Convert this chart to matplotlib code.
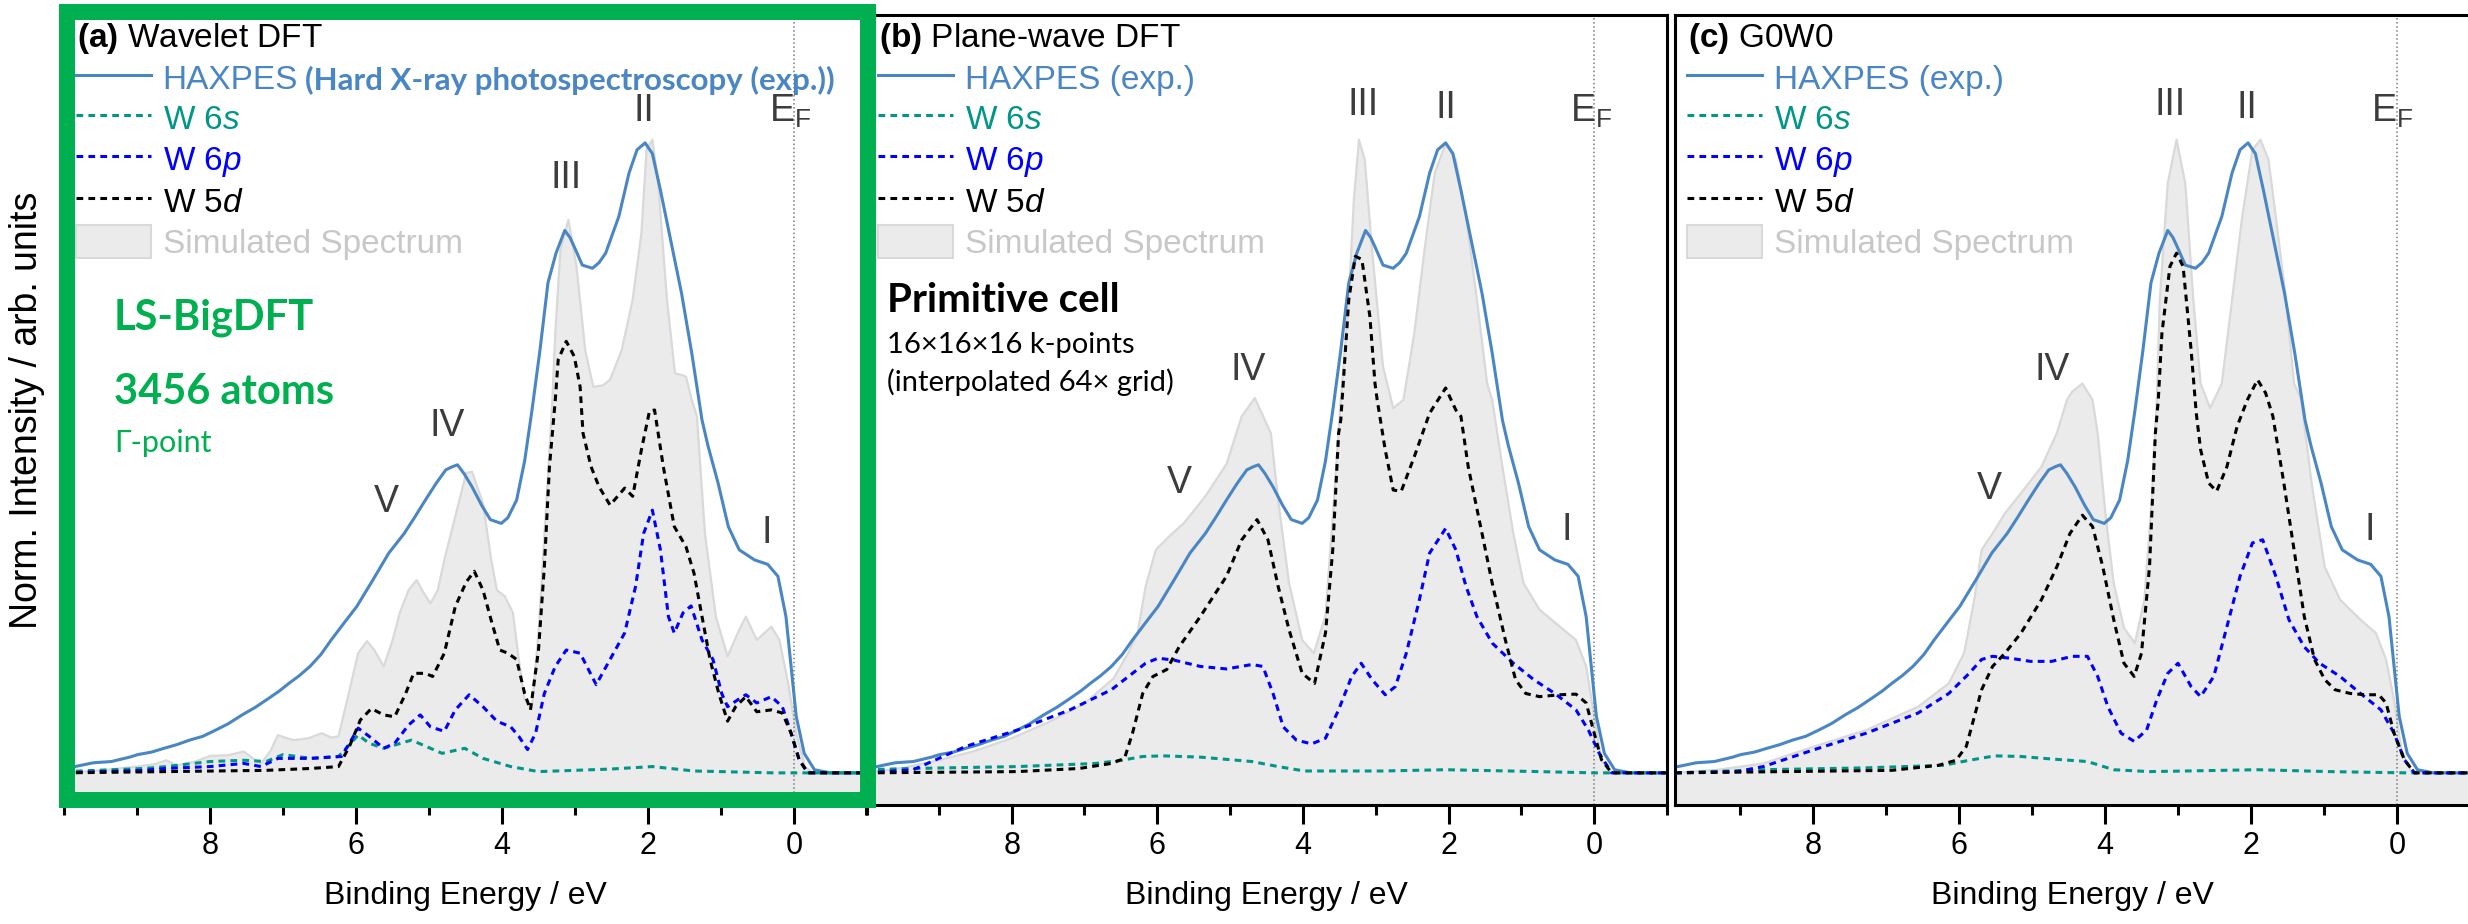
#!/usr/bin/env python3

import matplotlib
matplotlib.use("Agg")
import matplotlib.pyplot as plt
from matplotlib.lines import Line2D
from matplotlib.patches import Patch, Rectangle
from matplotlib.ticker import MultipleLocator

plt.rcParams["font.family"] = ["Liberation Sans", "DejaVu Sans"]
plt.rcParams["mathtext.fontset"] = "custom"
plt.rcParams["mathtext.rm"] = "Liberation Sans"
plt.rcParams["mathtext.it"] = "Liberation Sans:italic"
plt.rcParams["mathtext.bf"] = "Liberation Sans:bold"

W, H = 2468, 924

# HAXPES experiment, the same curve in all three panels
haxpes_ev = [10.0, 9.85, 9.6, 9.35, 9.1, 8.99, 8.8, 8.63, 8.45, 8.28, 8.1, 7.92,
             7.75, 7.56, 7.38, 7.2, 7.05, 6.92, 6.78, 6.63, 6.48, 6.34, 6.15,
             5.99, 5.77, 5.55, 5.34, 5.2, 5.05, 4.9, 4.77, 4.68, 4.61, 4.52,
             4.41, 4.28, 4.16, 4.01, 3.92, 3.8, 3.69, 3.59, 3.48, 3.37, 3.26,
             3.14, 3.07, 3.01, 2.9, 2.76, 2.67, 2.58, 2.4, 2.26, 2.15, 2.04,
             1.94, 1.83, 1.69, 1.54, 1.4, 1.26, 1.18, 1.04, 0.9, 0.75, 0.54,
             0.36, 0.22, 0.11, 0.04, -0.03, -0.14, -0.28, -0.5, -1.0]
haxpes_int = [0.012, 0.010, 0.016, 0.018, 0.025, 0.029, 0.033, 0.039, 0.045,
              0.052, 0.058, 0.068, 0.078, 0.092, 0.104, 0.118, 0.130, 0.142,
              0.154, 0.169, 0.188, 0.211, 0.240, 0.264, 0.306, 0.349, 0.380,
              0.405, 0.433, 0.460, 0.481, 0.486, 0.489, 0.475, 0.454, 0.425,
              0.402, 0.396, 0.405, 0.433, 0.495, 0.575, 0.671, 0.778, 0.825,
              0.861, 0.850, 0.835, 0.806, 0.801, 0.810, 0.825, 0.883, 0.952,
              0.989, 1.0, 0.983, 0.925, 0.846, 0.761, 0.666, 0.56, 0.52, 0.46,
              0.391, 0.354, 0.338, 0.331, 0.312, 0.248, 0.169, 0.09, 0.031,
              0.005, 0.0, 0.0]

# (a) wavelet DFT
a_sim_ev = [10.0, 9.5, 9.0, 8.75, 8.6, 8.45, 8.2, 8.0, 7.75, 7.54, 7.4, 7.3,
            7.17, 7.07, 6.95, 6.85, 6.65, 6.47, 6.34, 6.24, 6.12, 5.97, 5.85,
            5.75, 5.62, 5.5, 5.4, 5.28, 5.17, 5.07, 4.98, 4.88, 4.79, 4.64,
            4.49, 4.41, 4.26, 4.15, 4.07, 3.96, 3.85, 3.77, 3.69, 3.59, 3.5,
            3.39, 3.31, 3.27, 3.2, 3.09, 2.98, 2.86, 2.75, 2.62, 2.52, 2.36,
            2.21, 2.09, 2.02, 1.94, 1.86, 1.74, 1.63, 1.55, 1.48, 1.4, 1.33,
            1.22, 1.07, 0.91, 0.77, 0.66, 0.51, 0.31, 0.2, 0.08, -0.03, -0.15,
            -0.26, -1.0]
a_sim_int = [0.0, 0.004, 0.01, 0.014, 0.02, 0.012, 0.018, 0.027, 0.028, 0.034,
             0.022, 0.015, 0.035, 0.06, 0.055, 0.052, 0.055, 0.063, 0.056,
             0.058, 0.116, 0.19, 0.209, 0.195, 0.169, 0.21, 0.254, 0.29, 0.306,
             0.285, 0.269, 0.29, 0.338, 0.407, 0.476, 0.478, 0.428, 0.34, 0.29,
             0.28, 0.254, 0.18, 0.116, 0.105, 0.222, 0.433, 0.592, 0.698, 0.83,
             0.878, 0.804, 0.671, 0.613, 0.615, 0.624, 0.671, 0.751, 0.857,
             0.989, 1.005, 0.935, 0.751, 0.634, 0.632, 0.629, 0.592, 0.566,
             0.38, 0.248, 0.185, 0.222, 0.248, 0.211, 0.232, 0.211, 0.142,
             0.063, 0.01, 0.0, 0.0]
a_6s_ev = [10.0, 8.9, 8.6, 8.0, 7.54, 7.23, 7.0, 6.62, 6.24, 5.97, 5.82, 5.62,
           5.24, 4.82, 4.51, 4.26, 3.88, 3.5, 2.52, 1.94, 1.37, 0.27, -1.0]
a_6s_int = [0.002, 0.007, 0.01, 0.018, 0.02, 0.018, 0.029, 0.023, 0.026, 0.06,
            0.047, 0.039, 0.052, 0.031, 0.039, 0.023, 0.01, 0.002, 0.006, 0.01,
            0.003, 0.0, 0.0]
a_6p_ev = [10.0, 8.9, 8.6, 8.0, 7.54, 7.3, 7.07, 6.62, 6.2, 6.09, 5.97, 5.82,
           5.62, 5.47, 5.28, 5.12, 4.98, 4.79, 4.64, 4.45, 4.26, 4.07, 3.88,
           3.77, 3.65, 3.54, 3.42, 3.27, 3.12, 2.93, 2.71, 2.52, 2.32, 2.17,
           2.06, 1.94, 1.83, 1.72, 1.64, 1.52, 1.41, 1.26, 1.11, 0.99, 0.91,
           0.77, 0.66, 0.51, 0.31, 0.16, 0.04, -0.07, -0.19, -1.0]
a_6p_int = [0.0, 0.004, 0.007, 0.01, 0.015, 0.01, 0.023, 0.023, 0.026, 0.047,
            0.071, 0.058, 0.039, 0.047, 0.076, 0.092, 0.073, 0.066, 0.1, 0.124,
            0.105, 0.082, 0.073, 0.058, 0.037, 0.063, 0.126, 0.169, 0.195,
            0.19, 0.14, 0.18, 0.222, 0.296, 0.38, 0.417, 0.354, 0.248, 0.222,
            0.254, 0.265, 0.211, 0.18, 0.126, 0.105, 0.116, 0.124, 0.111,
            0.121, 0.105, 0.063, 0.021, 0.0, 0.0]
a_5d_ev = [10.0, 7.23, 6.62, 6.24, 6.09, 5.94, 5.79, 5.62, 5.47, 5.32, 5.21,
           5.05, 4.95, 4.79, 4.64, 4.49, 4.38, 4.26, 4.15, 4.03, 3.92, 3.8,
           3.69, 3.61, 3.5, 3.42, 3.35, 3.27, 3.23, 3.12, 3.01, 2.93, 2.89,
           2.78, 2.67, 2.52, 2.32, 2.21, 2.09, 1.98, 1.91, 1.79, 1.64, 1.48,
           1.37, 1.26, 1.15, 1.03, 0.91, 0.8, 0.66, 0.51, 0.31, 0.16, 0.04,
           -0.07, -0.19, -1.0]
a_5d_int = [0.0, 0.004, 0.007, 0.01, 0.042, 0.084, 0.102, 0.092, 0.089, 0.126,
            0.158, 0.158, 0.153, 0.19, 0.264, 0.303, 0.32, 0.29, 0.243, 0.195,
            0.19, 0.18, 0.126, 0.1, 0.195, 0.327, 0.486, 0.592, 0.656, 0.685,
            0.661, 0.613, 0.539, 0.486, 0.454, 0.425, 0.452, 0.439, 0.513,
            0.574, 0.576, 0.486, 0.391, 0.359, 0.317, 0.248, 0.18, 0.126,
            0.082, 0.105, 0.121, 0.097, 0.1, 0.095, 0.063, 0.021, 0.0, 0.0]

# (b) plane-wave DFT
b_sim_ev = [10.0, 9.5, 9.0, 8.5, 8.0, 7.5, 7.0, 6.6, 6.4, 6.27, 6.16, 6.02,
            5.84, 5.63, 5.34, 5.05, 4.84, 4.66, 4.44, 4.34, 4.19, 4.01, 3.85,
            3.69, 3.59, 3.48, 3.37, 3.3, 3.23, 3.15, 3.05, 2.9, 2.76, 2.62,
            2.47, 2.33, 2.19, 2.04, 1.9, 1.76, 1.61, 1.47, 1.4, 1.26, 1.11,
            0.97, 0.75, 0.47, 0.25, 0.11, 0.0, -0.1, -0.24, -1.0]
b_sim_int = [0.0, 0.008, 0.02, 0.035, 0.055, 0.08, 0.11, 0.15, 0.19, 0.222,
             0.296, 0.354, 0.375, 0.397, 0.439, 0.49, 0.566, 0.595, 0.539,
             0.433, 0.301, 0.211, 0.19, 0.25, 0.407, 0.592, 0.751, 0.91, 1.005,
             0.973, 0.83, 0.645, 0.579, 0.592, 0.698, 0.83, 0.952, 0.999,
             0.973, 0.883, 0.751, 0.618, 0.592, 0.486, 0.38, 0.301, 0.259,
             0.232, 0.211, 0.169, 0.09, 0.021, 0.0, 0.0]
b_6s_ev = [10.0, 9.35, 7.92, 6.84, 6.49, 6.2, 5.92, 5.41, 4.7, 4.34, 3.98, 2.9,
           2.04, 0.75, 0.0, -1.0]
b_6s_int = [0.005, 0.007, 0.01, 0.015, 0.02, 0.026, 0.027, 0.025, 0.018, 0.01,
            0.003, 0.003, 0.005, 0.002, 0.0, 0.0]
b_6p_ev = [10.0, 9.35, 8.63, 7.92, 7.2, 6.63, 6.34, 6.16, 5.99, 5.77, 5.41,
           5.05, 4.7, 4.55, 4.41, 4.27, 4.09, 3.88, 3.69, 3.51, 3.33, 3.2,
           3.05, 2.87, 2.73, 2.58, 2.4, 2.26, 2.04, 1.9, 1.76, 1.61, 1.4, 1.11,
           0.83, 0.54, 0.25, 0.08, -0.07, -0.24, -1.0]
b_6p_int = [0.0, 0.005, 0.042, 0.068, 0.1, 0.132, 0.158, 0.174, 0.182, 0.179,
            0.169, 0.165, 0.172, 0.169, 0.126, 0.073, 0.052, 0.046, 0.055, 0.1,
            0.153, 0.174, 0.148, 0.124, 0.137, 0.19, 0.275, 0.349, 0.388,
            0.354, 0.296, 0.248, 0.206, 0.174, 0.148, 0.126, 0.1, 0.068, 0.031,
            0.0, 0.0]
b_5d_ev = [10.0, 7.92, 7.07, 6.63, 6.45, 6.34, 6.2, 6.06, 5.87, 5.7, 5.41,
           5.05, 4.84, 4.63, 4.48, 4.34, 4.19, 4.01, 3.84, 3.69, 3.59, 3.51,
           3.48, 3.37, 3.28, 3.19, 3.08, 3.01, 2.98, 2.87, 2.76, 2.65, 2.47,
           2.26, 2.04, 1.9, 1.83, 1.73, 1.54, 1.4, 1.22, 1.08, 0.94, 0.75,
           0.47, 0.25, 0.11, 0.0, -0.1, -0.24, -1.0]
b_5d_int = [0.0, 0.002, 0.007, 0.015, 0.023, 0.063, 0.126, 0.153, 0.164, 0.2,
            0.248, 0.312, 0.37, 0.402, 0.37, 0.296, 0.227, 0.158, 0.142,
            0.222, 0.354, 0.539, 0.56, 0.751, 0.82, 0.815, 0.724, 0.618,
            0.592, 0.513, 0.449, 0.447, 0.502, 0.571, 0.611, 0.576, 0.566,
            0.486, 0.38, 0.301, 0.211, 0.148, 0.126, 0.121, 0.124, 0.125,
            0.111, 0.063, 0.021, 0.0, 0.0]

# (c) G0W0
c_sim_ev = [9.89, 9.3, 8.68, 7.98, 7.27, 6.56, 6.14, 5.93, 5.79, 5.69, 5.54,
            5.37, 5.15, 4.87, 4.66, 4.52, 4.45, 4.31, 4.17, 4.1, 3.99, 3.88,
            3.74, 3.59, 3.46, 3.36, 3.29, 3.25, 3.14, 3.02, 2.9, 2.79, 2.69,
            2.56, 2.4, 2.26, 2.12, 1.98, 1.87, 1.76, 1.66, 1.52, 1.41, 1.31,
            1.17, 0.99, 0.78, 0.5, 0.29, 0.15, 0.04, -0.06, -0.2, -1.0]
c_sim_int = [0.0, 0.005, 0.015, 0.042, 0.068, 0.105, 0.142, 0.19, 0.275,
             0.354, 0.38, 0.412, 0.444, 0.486, 0.539, 0.592, 0.605, 0.618,
             0.592, 0.539, 0.407, 0.301, 0.23, 0.206, 0.275, 0.433, 0.592,
             0.75, 0.936, 1.005, 0.936, 0.751, 0.618, 0.579, 0.618, 0.75,
             0.883, 0.989, 1.005, 0.973, 0.883, 0.751, 0.618, 0.592, 0.46,
             0.327, 0.275, 0.243, 0.222, 0.18, 0.116, 0.037, 0.0, 0.0]
c_6s_ev = [9.89, 8.68, 7.27, 6.21, 5.86, 5.51, 5.15, 4.73, 4.24, 3.88, 3.39,
           1.91, 0.92, -0.13, -1.0]
c_6s_int = [0.0, 0.005, 0.008, 0.012, 0.02, 0.027, 0.026, 0.022, 0.018, 0.005,
            0.002, 0.005, 0.002, 0.0, 0.0]
c_6p_ev = [9.89, 9.04, 8.68, 7.98, 7.27, 6.56, 6.14, 5.86, 5.69, 5.54, 5.3,
           5.02, 4.73, 4.45, 4.24, 4.1, 3.96, 3.78, 3.6, 3.43, 3.29, 3.14, 3.0,
           2.82, 2.69, 2.51, 2.33, 2.15, 1.98, 1.84, 1.66, 1.48, 1.27, 1.06,
           0.78, 0.5, 0.22, 0.04, -0.1, -0.24, -1.0]
c_6p_int = [0.0, 0.002, 0.01, 0.037, 0.063, 0.095, 0.126, 0.158, 0.18, 0.185,
            0.182, 0.177, 0.177, 0.185, 0.185, 0.153, 0.105, 0.063, 0.05,
            0.068, 0.116, 0.158, 0.174, 0.137, 0.121, 0.153, 0.232, 0.312,
            0.365, 0.37, 0.312, 0.243, 0.2, 0.174, 0.153, 0.126, 0.1, 0.063,
            0.021, 0.0, 0.0]
c_5d_ev = [9.89, 6.92, 6.28, 6.04, 5.9, 5.79, 5.69, 5.54, 5.37, 5.15, 4.87,
           4.66, 4.48, 4.31, 4.17, 4.03, 3.88, 3.74, 3.6, 3.5, 3.39, 3.31,
           3.27, 3.22, 3.11, 3.02, 2.93, 2.82, 2.75, 2.69, 2.58, 2.47, 2.33,
           2.19, 2.05, 1.91, 1.8, 1.7, 1.55, 1.41, 1.27, 1.13, 0.99, 0.85,
           0.64, 0.43, 0.25, 0.15, 0.04, -0.1, -0.24, -1.0]
c_5d_int = [0.0, 0.004, 0.012, 0.02, 0.042, 0.089, 0.132, 0.169, 0.19, 0.222,
            0.275, 0.327, 0.38, 0.409, 0.391, 0.327, 0.243, 0.174, 0.153,
            0.19, 0.327, 0.539, 0.592, 0.698, 0.804, 0.825, 0.804, 0.671,
            0.571, 0.513, 0.46, 0.447, 0.486, 0.55, 0.592, 0.624, 0.603,
            0.566, 0.46, 0.354, 0.248, 0.18, 0.148, 0.132, 0.126, 0.124,
            0.124, 0.111, 0.063, 0.021, 0.0, 0.0]

# peak labels: (text, binding energy, height)
peak_names = ["V", "IV", "III", "II", "I", "E$_\\mathregular{F}$"]
a_peak_ev = [5.59, 4.75, 3.12, 2.05, 0.38, 0.05]
a_peak_y = [0.43, 0.55, 0.944, 1.05, 0.38, 1.05]
b_peak_ev = [5.7, 4.75, 3.18, 2.04, 0.38, 0.04]
b_peak_y = [0.46, 0.64, 1.06, 1.055, 0.386, 1.05]
c_peak_ev = [5.58, 4.73, 3.11, 2.05, 0.37, 0.07]
c_peak_y = [0.45, 0.64, 1.06, 1.055, 0.386, 1.05]

major_ticks = [8, 6, 4, 2, 0]

EXP_BLUE = "#4a86c4"
TEAL = "#009688"
BLUE = "#0000ff"
FILL = "#ebebeb"
FILL_EDGE = "#d9d9d9"
GREEN = "#00b050"
PEAK_GREY = "#3c3c3c"
DASH = (0, (2.2, 1.7))
YLIM = (-0.051, 1.203)


def axes_frac(ax_box, px, py):
    x0, x1 = ax_box
    return (px - x0) / (x1 - x0), (805 - py) / 790


def draw_panel(ax, box, xlim, title, sim, s6, p6, d5, peaks, exp_label):
    ax.set_xlim(*xlim)
    ax.set_ylim(*YLIM)
    ax.fill_between(sim[0], YLIM[0] - 0.1, sim[1], color=FILL, lw=0, zorder=0.5)
    ax.plot(sim[0], sim[1], color=FILL_EDGE, lw=1.6, zorder=0.6)
    ax.axvline(0, color="#7a7a7a", lw=1.1, ls=":", zorder=0.8)
    ax.plot(haxpes_ev, haxpes_int, color=EXP_BLUE, lw=2.2, zorder=2)
    ax.plot(s6[0], s6[1], color=TEAL, lw=2.2, ls=DASH, zorder=3)
    ax.plot(p6[0], p6[1], color=BLUE, lw=2.2, ls=DASH, zorder=3.1)
    ax.plot(d5[0], d5[1], color="black", lw=2.2, ls=DASH, zorder=3.2)

    for name, ev, y in zip(peak_names, peaks[0], peaks[1]):
        ax.text(ev, y, name, fontsize=27, color=PEAK_GREY, ha="center",
                va="center")

    ax.set_xticks(major_ticks)
    ax.xaxis.set_minor_locator(MultipleLocator(1))
    ax.set_yticks([])
    ax.tick_params(axis="x", which="major", length=14, width=2.2,
                   labelsize=22, pad=5)
    ax.tick_params(axis="x", which="minor", length=7, width=2.2)
    for sp in ax.spines.values():
        sp.set_linewidth(2.2)
    ax.set_xlabel("Binding Energy / eV", fontsize=23, labelpad=14)

    tx, ty = axes_frac(box, box[0] + 13, 38)
    ax.text(tx, ty, title, transform=ax.transAxes, fontsize=24, va="center")

    handles = [
        Line2D([], [], color=EXP_BLUE, lw=2.2),
        Line2D([], [], color=TEAL, lw=2.2, ls=DASH),
        Line2D([], [], color=BLUE, lw=2.2, ls=DASH),
        Line2D([], [], color="black", lw=2.2, ls=DASH),
        Patch(facecolor=FILL, edgecolor=FILL_EDGE, lw=1.5),
    ]
    labels = [exp_label, "W 6$s$", "W 6$p$", "W 5$d$", "Simulated Spectrum"]
    lx, ly = axes_frac(box, box[0] + 12, 61)
    leg = ax.legend(handles, labels, loc="upper left", bbox_to_anchor=(lx, ly),
                    frameon=False, fontsize=24, handlelength=2.25,
                    handleheight=1.15, handletextpad=0.35, labelspacing=0.17,
                    borderpad=0, borderaxespad=0)
    text_colors = [EXP_BLUE, TEAL, BLUE, "black", "#c8c8c8"]
    for txt, col in zip(leg.get_texts(), text_colors):
        txt.set_color(col)
    return leg


def main() -> None:
    fig = plt.figure(figsize=(W / 100, H / 100), dpi=100)
    boxes = [(64, 867), (866, 1667), (1675, 2470)]
    axes = [fig.add_axes([x0 / W, 1 - 805 / H, (x1 - x0) / W, 790 / H])
            for x0, x1 in boxes]

    leg_a = draw_panel(axes[0], boxes[0], (10, -1), r"$\mathbf{(a)}$ Wavelet DFT",
                       (a_sim_ev, a_sim_int), (a_6s_ev, a_6s_int),
                       (a_6p_ev, a_6p_int), (a_5d_ev, a_5d_int),
                       (a_peak_ev, a_peak_y), "HAXPES")
    draw_panel(axes[1], boxes[1], (10, -1), r"$\mathbf{(b)}$ Plane-wave DFT",
               (b_sim_ev, b_sim_int), (b_6s_ev, b_6s_int),
               (b_6p_ev, b_6p_int), (b_5d_ev, b_5d_int),
               (b_peak_ev, b_peak_y), "HAXPES (exp.)")
    draw_panel(axes[2], boxes[2], (9.89, -1), r"$\mathbf{(c)}$ G0W0",
               (c_sim_ev, c_sim_int), (c_6s_ev, c_6s_int),
               (c_6p_ev, c_6p_int), (c_5d_ev, c_5d_int),
               (c_peak_ev, c_peak_y), "HAXPES (exp.)")

    calibri = ["Lato", "Open Sans", "DejaVu Sans"]
    ax = axes[0]
    ax.annotate("(Hard X-ray photospectroscopy (exp.))", xy=(1, 0),
                xycoords=leg_a.get_texts()[0], xytext=(5, 0.5),
                textcoords="offset points", va="bottom", ha="left",
                fontsize=22.5, fontweight="bold", family=calibri,
                color=EXP_BLUE, zorder=6)
    for txt, py, size, weight in [("LS-BigDFT", 318, 30, "bold"),
                                  ("3456 atoms", 392, 30, "bold"),
                                  ("Γ-point", 443, 22, "normal")]:
        x, y = axes_frac(boxes[0], 114, py)
        ax.text(x, y, txt, transform=ax.transAxes, fontsize=size,
                fontweight=weight, family=calibri, color=GREEN, va="center")

    ax = axes[1]
    for txt, py, size, weight in [("Primitive cell", 300, 29, "bold"),
                                  ("16×16×16 k-points", 345, 21, "normal"),
                                  ("(interpolated 64× grid)", 382, 21, "normal")]:
        x, y = axes_frac(boxes[1], 887, py)
        ax.text(x, y, txt, transform=ax.transAxes, fontsize=size,
                fontweight=weight, family=calibri, color="black", va="center")

    fig.text(27 / W, 1 - 410 / H, "Norm. Intensity / arb. units", fontsize=27,
             rotation=90, ha="center", va="center")

    # green highlight frame around panel (a)
    frame = Rectangle((66.5 / W, 1 - 799.5 / H), 801 / W, 788 / H,
                      transform=fig.transFigure, fill=False, lw=11.5,
                      edgecolor=GREEN, joinstyle="miter", zorder=10)
    fig.add_artist(frame)

    fig.savefig("out.png", dpi=100)


main()
